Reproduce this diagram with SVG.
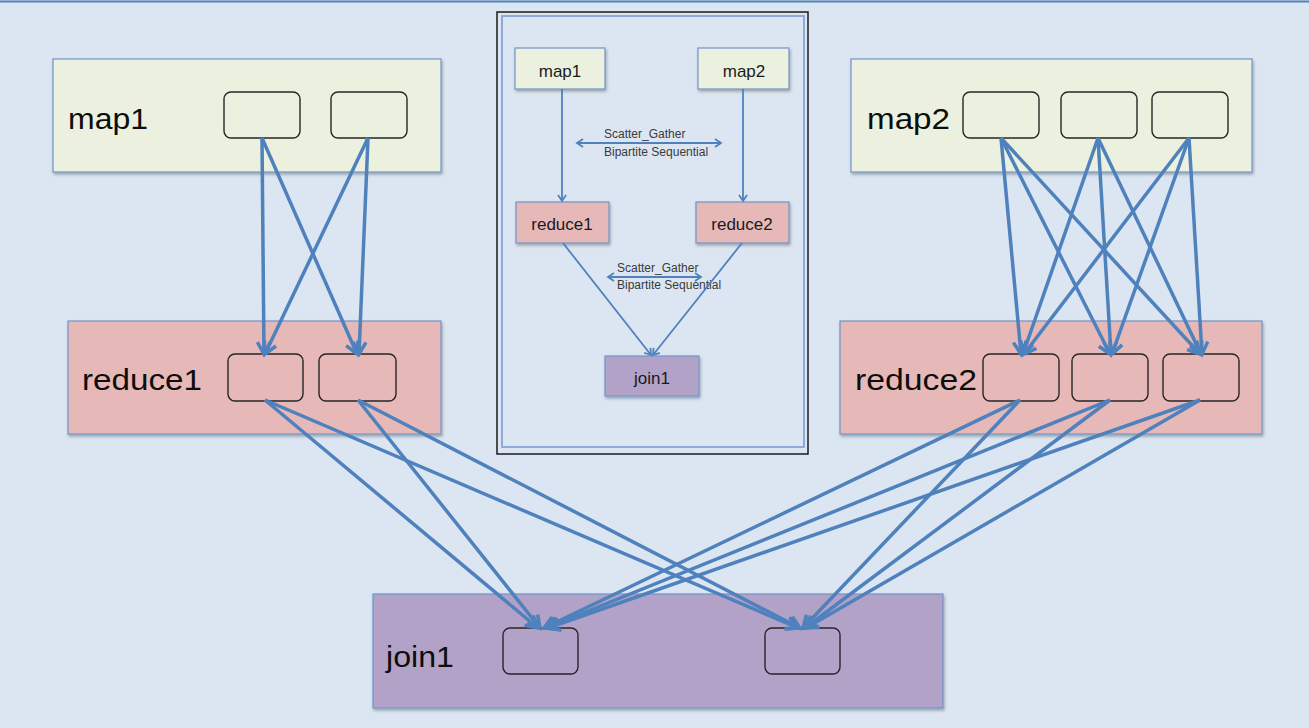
<svg xmlns="http://www.w3.org/2000/svg" width="1309" height="728" viewBox="0 0 1309 728">
<style>
.bg{fill:#dce6f2}
.box{stroke:#6f95c8;stroke-width:1.2}
.map{fill:#ebf1de}
.red{fill:#e6b9b8}
.join{fill:#b3a2c7}
.sub{fill:none;stroke:#262626;stroke-width:1.4}
.lbl{font-family:"Liberation Sans",Arial,sans-serif;font-size:30px;fill:#0d0d0d}
.ilbl{font-family:"Liberation Sans",Arial,sans-serif;font-size:17px;fill:#1a1a1a}
.slbl{font-family:"Liberation Sans",Arial,sans-serif;font-size:12px;fill:#3a3a3a}
.c{stroke:#4f81bd;stroke-width:3.5;fill:none;marker-end:url(#ah)}
.ci{stroke:#4f81bd;stroke-width:1.8;fill:none;marker-end:url(#ahs)}
.cd{stroke:#4f81bd;stroke-width:1.8;fill:none;marker-end:url(#ahs);marker-start:url(#ahs)}
</style>
<defs>
<filter id="sh" x="-5%" y="-5%" width="110%" height="120%">
<feDropShadow dx="1" dy="2" stdDeviation="1.5" flood-color="#000" flood-opacity="0.3"/>
</filter>
<marker id="ah" markerUnits="userSpaceOnUse" markerWidth="24" markerHeight="24" viewBox="-16 -12 24 24" refX="0" refY="0" orient="auto">
<path d="M-12,-6.5 L0,0 L-12,6.5" fill="none" stroke="#4f81bd" stroke-width="3.5" stroke-linejoin="miter"/>
</marker>
<marker id="ahs" markerUnits="userSpaceOnUse" markerWidth="14" markerHeight="14" viewBox="-9 -7 14 14" refX="0" refY="0" orient="auto-start-reverse">
<path d="M-6,-4 L0,0 L-6,4" fill="none" stroke="#4f81bd" stroke-width="1.8"/>
</marker>
</defs>
<rect class="bg" x="0" y="0" width="1309" height="728"/>
<line x1="0" y1="1.5" x2="1309" y2="1.5" stroke="#4f81bd" stroke-width="2"/>

<g id="map1">
<rect class="box map" x="53" y="59" width="388" height="113" filter="url(#sh)"/>
<text class="lbl" x="68" y="129" textLength="80" lengthAdjust="spacingAndGlyphs">map1</text>
<rect class="sub" x="224" y="92" width="76" height="46" rx="7"/>
<rect class="sub" x="331" y="92" width="76" height="46" rx="7"/>
</g>
<g id="reduce1">
<rect class="box red" x="68" y="321" width="373" height="113" filter="url(#sh)"/>
<text class="lbl" x="82" y="390" textLength="120" lengthAdjust="spacingAndGlyphs">reduce1</text>
<rect class="sub" x="228" y="354" width="75" height="47" rx="7"/>
<rect class="sub" x="319" y="354" width="77" height="47" rx="7"/>
</g>
<g id="map2">
<rect class="box map" x="851" y="59" width="401" height="113" filter="url(#sh)"/>
<text class="lbl" x="867" y="129" textLength="83" lengthAdjust="spacingAndGlyphs">map2</text>
<rect class="sub" x="963" y="92" width="76" height="46" rx="7"/>
<rect class="sub" x="1061" y="92" width="76" height="46" rx="7"/>
<rect class="sub" x="1152" y="92" width="76" height="46" rx="7"/>
</g>
<g id="reduce2">
<rect class="box red" x="840" y="321" width="422" height="113" filter="url(#sh)"/>
<text class="lbl" x="855" y="390" textLength="122" lengthAdjust="spacingAndGlyphs">reduce2</text>
<rect class="sub" x="983" y="354" width="76" height="47" rx="7"/>
<rect class="sub" x="1072" y="354" width="76" height="47" rx="7"/>
<rect class="sub" x="1163" y="354" width="76" height="47" rx="7"/>
</g>
<g id="join1">
<rect class="box join" x="373" y="594" width="570" height="114" filter="url(#sh)"/>
<text class="lbl" x="386" y="667" textLength="68" lengthAdjust="spacingAndGlyphs">join1</text>
<rect class="sub" x="503" y="628" width="75" height="46" rx="7"/>
<rect class="sub" x="765" y="628" width="75" height="46" rx="7"/>
</g>

<g id="inset">
<rect x="497" y="12" width="311" height="442" fill="none" stroke="#1a1a1a" stroke-width="1.5"/>
<rect x="502" y="16" width="302" height="431" fill="#dce6f2" stroke="#8eaadb" stroke-width="2"/>
<g id="i-map1">
<rect class="box map" x="515" y="48" width="90" height="41" filter="url(#sh)"/>
<text class="ilbl" x="560" y="77" text-anchor="middle">map1</text>
</g>
<g id="i-map2">
<rect class="box map" x="698" y="48" width="91" height="41" filter="url(#sh)"/>
<text class="ilbl" x="744" y="77" text-anchor="middle">map2</text>
</g>
<g id="i-reduce1">
<rect class="box red" x="516" y="202" width="93" height="41" filter="url(#sh)"/>
<text class="ilbl" x="562" y="230" text-anchor="middle">reduce1</text>
</g>
<g id="i-reduce2">
<rect class="box red" x="696" y="202" width="93" height="41" filter="url(#sh)"/>
<text class="ilbl" x="742" y="230" text-anchor="middle">reduce2</text>
</g>
<g id="i-join1">
<rect class="box join" x="605" y="356" width="94" height="40" filter="url(#sh)"/>
<text class="ilbl" x="652" y="384" text-anchor="middle">join1</text>
</g>
<text class="slbl" x="604" y="138">Scatter_Gather</text>
<text class="slbl" x="604" y="156">Bipartite Sequential</text>
<text class="slbl" x="617" y="272">Scatter_Gather</text>
<text class="slbl" x="617" y="289">Bipartite Sequential</text>
</g>

<g id="connectors">
<line class="ci" x1="562" y1="89" x2="562" y2="201"/>
<line class="ci" x1="743" y1="89" x2="743" y2="201"/>
<line class="cd" x1="577" y1="143" x2="721" y2="143"/>
<line class="ci" x1="563" y1="243" x2="651" y2="355"/>
<line class="ci" x1="742" y1="243" x2="653" y2="355"/>
<line class="cd" x1="608" y1="277" x2="701" y2="277"/>

<line class="c" x1="262" y1="138" x2="264" y2="354"/>
<line class="c" x1="262" y1="138" x2="357" y2="354"/>
<line class="c" x1="368" y1="138" x2="265" y2="354"/>
<line class="c" x1="368" y1="138" x2="359" y2="354"/>

<line class="c" x1="1001" y1="138" x2="1021" y2="354"/>
<line class="c" x1="1001" y1="138" x2="1110" y2="354"/>
<line class="c" x1="1001" y1="138" x2="1200" y2="354"/>
<line class="c" x1="1098" y1="138" x2="1023" y2="354"/>
<line class="c" x1="1098" y1="138" x2="1111" y2="354"/>
<line class="c" x1="1098" y1="138" x2="1201" y2="354"/>
<line class="c" x1="1189" y1="138" x2="1024" y2="354"/>
<line class="c" x1="1189" y1="138" x2="1112" y2="354"/>
<line class="c" x1="1189" y1="138" x2="1202" y2="354"/>

<line class="c" x1="265" y1="400" x2="538" y2="628"/>
<line class="c" x1="265" y1="400" x2="798" y2="628"/>
<line class="c" x1="358" y1="400" x2="540" y2="628"/>
<line class="c" x1="358" y1="400" x2="800" y2="628"/>
<line class="c" x1="1020" y1="400" x2="544" y2="628"/>
<line class="c" x1="1020" y1="400" x2="803" y2="628"/>
<line class="c" x1="1110" y1="400" x2="546" y2="628"/>
<line class="c" x1="1110" y1="400" x2="805" y2="628"/>
<line class="c" x1="1200" y1="400" x2="548" y2="628"/>
<line class="c" x1="1200" y1="400" x2="806" y2="628"/>
</g>
</svg>
